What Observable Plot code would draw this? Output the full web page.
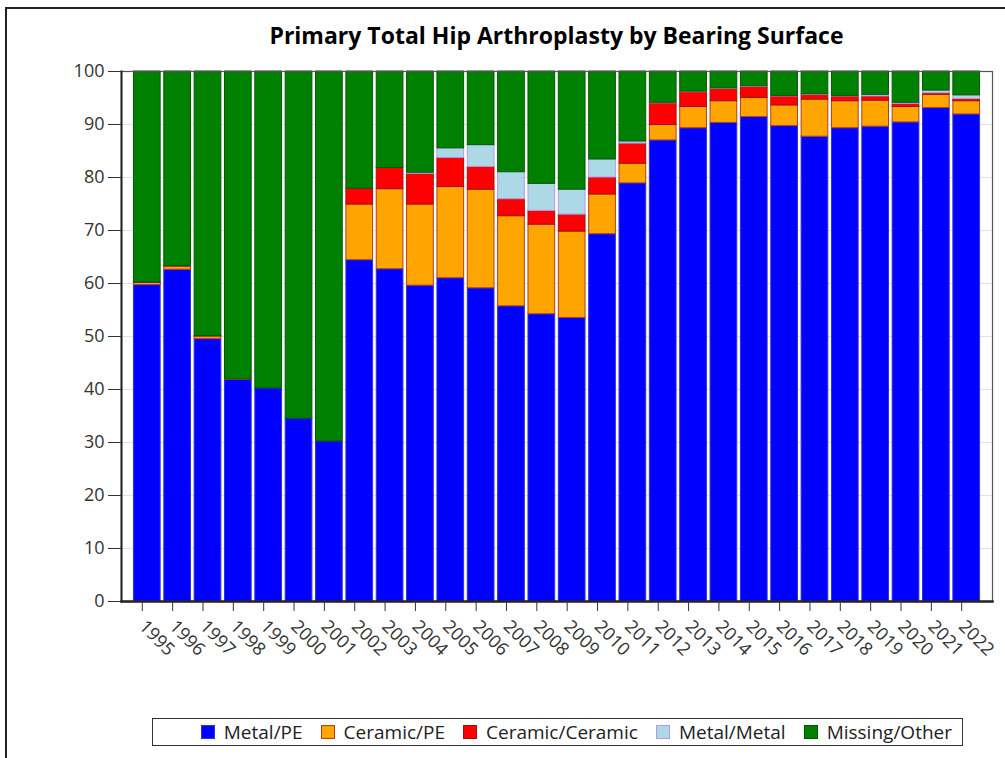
<!DOCTYPE html>
<html>
<head>
<meta charset="utf-8">
<script src="https://cdn.jsdelivr.net/npm/d3@7"></script>
<script src="https://cdn.jsdelivr.net/npm/@observablehq/plot@0.6"></script>
<style>
  html, body { margin: 0; padding: 0; background: #fff; }
  #wrap { position: relative; width: 1005px; height: 758px; overflow: hidden; font-family: "Open Sans", sans-serif; }
  #border { position: absolute; left: 5px; top: 7px; width: 1100px; height: 900px; border-top: 2px solid #222; border-left: 2px solid #222; }
  #title { position: absolute; left: 121px; width: 871px; top: 24px; text-align: center; font-weight: bold; font-size: 23px; line-height: 23px; color: #000; }
  #chart { position: absolute; left: 0; top: 0; }
  #legend { position: absolute; left: 152px; top: 718px; width: 809px; height: 26px; border: 1px solid #333; display: flex; align-items: center; justify-content: flex-end; box-sizing: content-box; }
  .item { display: flex; align-items: center; margin-right: 18px; font-size: 19px; color: #222; }
  .item:last-child { margin-right: 10px; }
  .sw { width: 12px; height: 12px; margin-right: 9px; border: 1px solid; }
</style>
</head>
<body>
<div id="wrap">
  <div id="border"></div>
  <div id="chart"></div>
  <div id="title">Primary Total Hip Arthroplasty by Bearing Surface</div>
  <div id="legend"></div>
</div>
<script>
const years = ["1995","1996","1997","1998","1999","2000","2001","2002","2003","2004","2005","2006","2007","2008","2009","2010","2011","2012","2013","2014","2015","2016","2017","2018","2019","2020","2021","2022"];
const seriesNames = ["Metal/PE","Ceramic/PE","Ceramic/Ceramic","Metal/Metal","Missing/Other"];
const metalPE        = [59.7,62.6,49.5,41.8,40.2,34.5,30.2,64.4,62.7,59.6,61.0,59.1,55.7,54.2,53.5,69.3,78.9,87.0,89.3,90.3,91.4,89.7,87.7,89.3,89.6,90.4,93.1,91.9];
const ceramicPE      = [0.4,0.6,0.5,0.1,0,0,0,10.5,15.1,15.3,17.2,18.6,17.0,16.9,16.3,7.5,3.7,2.9,4.0,4.1,3.6,3.9,7.0,5.1,4.9,2.9,2.5,2.5];
const ceramicCeramic = [0.1,0.1,0.1,0,0,0,0,3.0,4.0,5.8,5.5,4.3,3.2,2.6,3.2,3.2,3.8,4.1,2.8,2.3,2.1,1.7,0.9,0.9,0.8,0.6,0.3,0.4];
const metalMetal     = [0,0,0,0,0,0,0,0,0,0.2,1.8,4.1,5.1,5.1,4.7,3.4,0.4,0.1,0.1,0.1,0.1,0.1,0.1,0.1,0.3,0.2,0.5,0.7];
const missingOther   = [39.8,36.7,49.9,58.1,59.8,65.5,69.8,22.1,18.2,19.1,14.5,13.9,19.0,21.2,22.3,16.6,13.2,5.9,3.8,3.2,2.8,4.6,4.3,4.6,4.4,5.9,3.6,4.5];
const yTicks = [0,10,20,30,40,50,60,70,80,90,100];

const fillColors   = ["#0000ff","#ffa500","#ff0000","#add8e6","#008000"];
const strokeColors = ["#3030e0","#b0401a","#a01010","#b49ae6","#005a00"];

const seriesValues = [metalPE, ceramicPE, ceramicCeramic, metalMetal, missingOther];
const rows = [];
seriesNames.forEach((s, si) => {
  years.forEach((yr, i) => rows.push({year: yr, series: s, value: seriesValues[si][i], si}));
});

const plot = Plot.plot({
  width: 1005,
  height: 700,
  marginLeft: 121,
  marginRight: 13,
  marginTop: 71,
  marginBottom: 99,
  style: {fontFamily: "'Open Sans', sans-serif", fontSize: "18px", color: "#333", background: "transparent"},
  x: {domain: years, paddingInner: 0.12, paddingOuter: 0.41, round: false, label: null},
  y: {domain: [0, 100], label: null},
  color: {type: "identity"},
  marks: [
    Plot.gridY(yTicks, {stroke: "#e2e2e2", strokeOpacity: 1}),
    Plot.barY(rows, {
      x: "year", y: "value", z: "series", order: seriesNames,
      fill: d => fillColors[d.si], stroke: d => strokeColors[d.si], strokeWidth: 1
    }),
    Plot.frame({stroke: "#555", strokeWidth: 1.2}),
    Plot.frame({anchor: "left", stroke: "#222", strokeWidth: 2}),
    Plot.frame({anchor: "bottom", stroke: "#222", strokeWidth: 2.5}),
    Plot.axisY(yTicks, {tickSize: 13, tickPadding: 4, label: null, stroke: "#333", fill: "#333", tickFormat: d => String(d)}),
    Plot.axisX({tickSize: 10, tickRotate: 45, tickPadding: 12, dx: -5, label: null, stroke: "#333", fill: "#333"})
  ]
});
document.getElementById("chart").appendChild(plot);

const legend = document.getElementById("legend");
seriesNames.forEach((s, i) => {
  const it = document.createElement("div");
  it.className = "item";
  const sw = document.createElement("span");
  sw.className = "sw";
  sw.style.background = fillColors[i];
  sw.style.borderColor = strokeColors[i];
  const tx = document.createElement("span");
  tx.textContent = s;
  it.appendChild(sw); it.appendChild(tx);
  legend.appendChild(it);
});
</script>
</body>
</html>
